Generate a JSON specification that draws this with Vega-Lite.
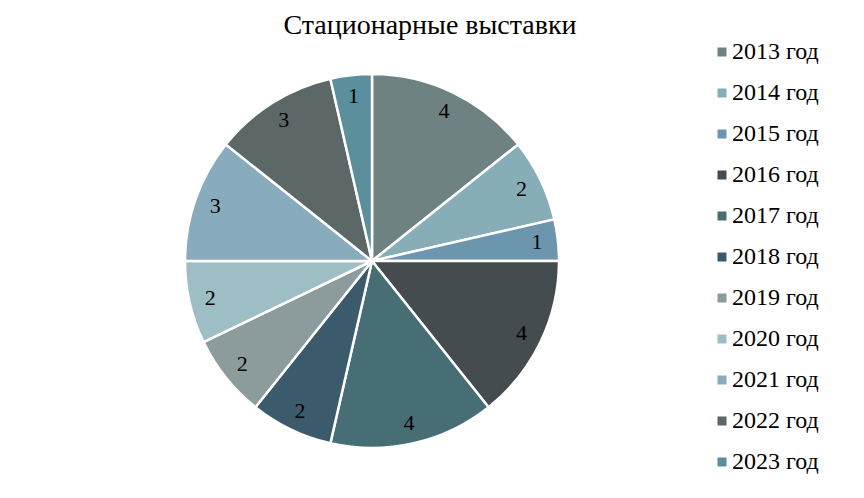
{
  "$schema": "https://vega.github.io/schema/vega-lite/v6.json",
  "autosize": "none",
  "padding": {"left": 0, "top": 0, "right": 120, "bottom": 0},
  "width": 744,
  "height": 522,
  "background": "white",
  "config": {"font": "Liberation Serif", "legend": {"labelFont": "Liberation Serif"}},
  "title": {
    "text": "Стационарные выставки",
    "font": "Liberation Serif",
    "fontSize": 28,
    "fontWeight": "normal",
    "color": "#000000",
    "anchor": "middle",
    "frame": "group",
    "dx": 58,
    "offset": -40
  },
  "data": {
    "values": [
      {"year": "2013 год", "value": 4},
      {"year": "2014 год", "value": 2},
      {"year": "2015 год", "value": 1},
      {"year": "2016 год", "value": 4},
      {"year": "2017 год", "value": 4},
      {"year": "2018 год", "value": 2},
      {"year": "2019 год", "value": 2},
      {"year": "2020 год", "value": 2},
      {"year": "2021 год", "value": 3},
      {"year": "2022 год", "value": 3},
      {"year": "2023 год", "value": 1}
    ]
  },
  "encoding": {
    "theta": {"field": "value", "type": "quantitative", "stack": true},
    "order": {"field": "year", "type": "ordinal"}
  },
  "layer": [
    {
      "mark": {"type": "arc", "outerRadius": 187, "stroke": "white", "strokeWidth": 2.5},
      "encoding": {
        "color": {
          "field": "year",
          "type": "nominal",
          "scale": {
            "domain": ["2013 год","2014 год","2015 год","2016 год","2017 год","2018 год","2019 год","2020 год","2021 год","2022 год","2023 год"],
            "range": ["#6f8282","#87aeb7","#6b96ad","#444c4f","#476e74","#3b5a6c","#8c9b9c","#9dbec4","#88abbe","#5b6867","#5b8f9c"]
          },
          "legend": {
            "title": null,
            "orient": "none",
            "legendX": 710,
            "legendY": 40,
            "symbolType": "square",
            "symbolSize": 81,
            "symbolStrokeWidth": 0,
            "labelFont": "Liberation Serif",
            "labelFontSize": 24,
            "labelColor": "#000000",
            "labelOffset": -2,
            "rowPadding": 17,
            "labelLimit": 200
          }
        }
      }
    },
    {
      "mark": {"type": "text", "radius": 166, "font": "Liberation Serif", "fontSize": 22, "color": "#000000"},
      "encoding": {
        "text": {"field": "value", "type": "quantitative"}
      }
    }
  ]
}
